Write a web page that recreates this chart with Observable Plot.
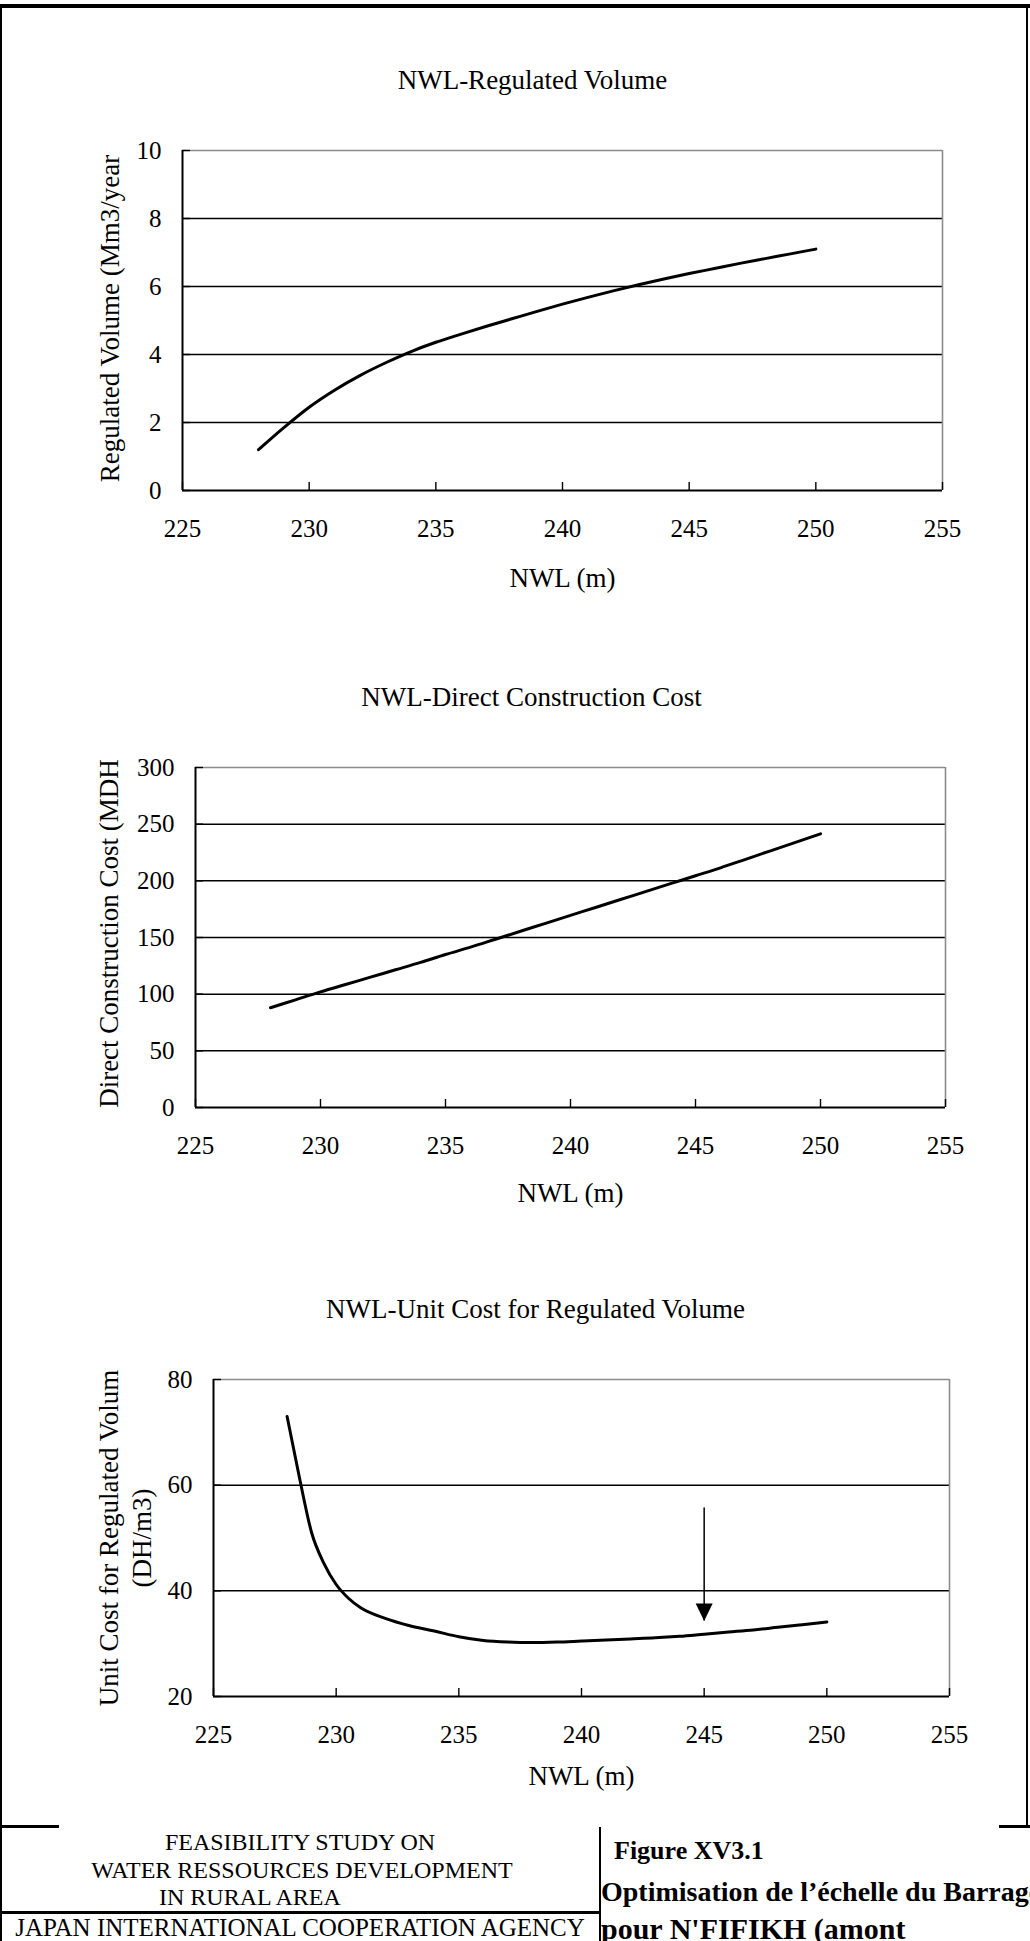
<!DOCTYPE html>
<html>
<head>
<meta charset="utf-8">
<script src="https://cdn.jsdelivr.net/npm/d3@7"></script>
<script src="https://cdn.jsdelivr.net/npm/@observablehq/plot@0.6"></script>
<style>
  html, body { margin: 0; padding: 0; background: #fff; }
  #page {
    position: relative; width: 1030px; height: 1941px; overflow: hidden; background: #fff;
    font-family: "Liberation Serif", "Times New Roman", Times, serif; color: #000;
  }
  .chart { position: absolute; left: 0; }
  .rule { position: absolute; background: #000; }
  .cell { position: absolute; white-space: nowrap; line-height: 1.3; }
  .center { transform: translateX(-50%); }
  .bold { font-weight: bold; }
  .clipped { overflow: hidden; }
</style>
</head>
<body>
<div id="page">
  <div class="rule" style="left:0;top:4px;width:1030px;height:4px"></div>
  <div class="rule" style="left:0;top:4px;width:2px;height:1937px"></div>
  <div class="rule" style="left:1026px;top:4px;width:2px;height:1823px"></div>

  <div id="chart1" class="chart" style="top:40px"></div>
  <div id="chart2" class="chart" style="top:620px"></div>
  <div id="chart3" class="chart" style="top:1240px"></div>

  <!-- title block -->
  <div class="rule" style="left:0;top:1825px;width:59px;height:3px"></div>
  <div class="rule" style="left:999px;top:1825px;width:31px;height:3px"></div>
  <div class="rule" style="left:599px;top:1827px;width:2px;height:114px"></div>
  <div class="rule" style="left:0;top:1911px;width:601px;height:3px"></div>
  <div id="block"></div>
</div>
<script>
// NWL (m) sampled for the regulated volume and cost curves
const nwl = [228, 229, 230, 231, 232, 233, 234, 235, 236, 237, 238, 239,
             240, 241, 242, 243, 244, 245, 246, 247, 248, 249, 250];
// Regulated volume (Mm3/year)
const regulatedVolume = [1.20, 1.85, 2.45, 2.95, 3.38, 3.75, 4.08, 4.36, 4.60, 4.83, 5.05, 5.27,
                         5.48, 5.68, 5.87, 6.05, 6.22, 6.38, 6.53, 6.68, 6.82, 6.96, 7.10];
// Direct construction cost (MDH)
const directCost = [88, 95, 102, 108.5, 115, 121.5, 128, 135, 141.5, 148.5, 155.5, 162.5,
                    169.5, 176.5, 183.5, 190.5, 197.5, 204.5, 211.5, 219, 226.5, 234, 241.5];
// Unit cost for regulated volume (DH/m3), denser near the steep start
const unitCostNwl = [228, 228.5, 229, 229.5, 230, 230.5, 231, 232, 233, 234, 235, 236, 237, 238, 239,
                     240, 241, 242, 243, 244, 245, 246, 247, 248, 249, 250];
const unitCost = [73.0, 61.5, 51.0, 45.2, 41.2, 38.6, 36.8, 34.8, 33.4, 32.4, 31.3, 30.6, 30.3, 30.2, 30.3,
                  30.5, 30.7, 30.9, 31.1, 31.4, 31.8, 32.2, 32.6, 33.1, 33.6, 34.1];
// Arrow pointing at the selected NWL
const selectedNwl = [245];
const arrowStart = [55.7];
const arrowEnd = [34.3];

const xTicks = [225, 230, 235, 240, 245, 250, 255];
const volumeTicks = [0, 2, 4, 6, 8, 10];
const costTicks = [0, 50, 100, 150, 200, 250, 300];
const unitTicks = [20, 40, 60, 80];

const serif = '"Liberation Serif", "Times New Roman", Times, serif';

// filled arrow head whose tip sits at the anchor point
const arrowHead = {
  draw(context) {
    context.moveTo(0, 0);
    context.lineTo(-8.5, -17.5);
    context.lineTo(8.5, -17.5);
    context.closePath();
  }
};

function framedChart(o) {
  const [y0, y1] = o.yDomain;
  return Plot.plot({
    width: 1030,
    height: o.height,
    marginTop: o.mt, marginBottom: o.mb, marginLeft: o.ml, marginRight: o.mr,
    style: {fontFamily: serif, fontSize: "25px", color: "#000", background: "transparent", overflow: "visible"},
    x: {domain: [225, 255], label: null},
    y: {domain: o.yDomain, label: null},
    marks: [
      Plot.ruleY(o.yTicks.filter(v => v > y0 && v < y1), {stroke: "#000", strokeWidth: 1.5}),
      Plot.ruleY([y1], {stroke: "#8c8c8c", strokeWidth: 1.6}),
      Plot.ruleX([255], {stroke: "#8c8c8c", strokeWidth: 1.6}),
      Plot.ruleX([225], {stroke: "#000", strokeWidth: 2}),
      Plot.ruleY([y0], {stroke: "#000", strokeWidth: 2}),
      Plot.axisY({ticks: o.yTicks, tickSize: -8, tickPadding: 29, strokeWidth: 1.4, fontSize: 25, tickFormat: d => String(d)}),
      Plot.axisX({ticks: xTicks, tickSize: -8, tickPadding: 37, strokeWidth: 1.4, fontSize: 25, tickFormat: d => String(d)}),
      ...o.marks,
      Plot.text([o.title], {text: d => d, frameAnchor: "top", lineAnchor: "middle", textAnchor: "middle",
                            dx: o.titleDx, dy: -70, fontSize: 27}),
      Plot.text(["NWL (m)"], {text: d => d, frameAnchor: "bottom", lineAnchor: "middle", textAnchor: "middle",
                              dy: o.xLabelDy, fontSize: 27}),
      ...o.yLabels.map(([t, dx, dy]) =>
        Plot.text([t], {text: d => d, frameAnchor: "left", rotate: -90, textAnchor: "middle", lineAnchor: "middle",
                        dx, dy, fontSize: 27}))
    ]
  });
}

const rows = (xs, ys) => xs.map((x, i) => ({x, y: ys[i]}));

document.getElementById("chart1").append(framedChart({
  height: 580, mt: 110, mb: 130, ml: 182, mr: 88,
  yDomain: [0, 10], yTicks: volumeTicks,
  title: "NWL-Regulated Volume", titleDx: -30, xLabelDy: 88,
  yLabels: [["Regulated Volume (Mm3/year", -72, -2]],
  marks: [
    Plot.line(rows(nwl, regulatedVolume), {x: "x", y: "y", stroke: "#000", strokeWidth: 3, curve: "monotone-x"})
  ]
}));

document.getElementById("chart2").append(framedChart({
  height: 620, mt: 147, mb: 133, ml: 195, mr: 85,
  yDomain: [0, 300], yTicks: costTicks,
  title: "NWL-Direct Construction Cost", titleDx: -39, xLabelDy: 86,
  yLabels: [["Direct Construction Cost (MDH", -86, -4]],
  marks: [
    Plot.line(rows(nwl, directCost), {x: "x", y: "y", stroke: "#000", strokeWidth: 3, curve: "monotone-x"})
  ]
}));

document.getElementById("chart3").append(framedChart({
  height: 570, mt: 139, mb: 114, ml: 213, mr: 81,
  yDomain: [20, 80], yTicks: unitTicks,
  title: "NWL-Unit Cost for Regulated Volume", titleDx: -46, xLabelDy: 80,
  yLabels: [["Unit Cost for Regulated Volum", -104, 0], ["(DH/m3)", -71, 0]],
  marks: [
    Plot.line(rows(unitCostNwl, unitCost), {x: "x", y: "y", stroke: "#000", strokeWidth: 3, curve: "monotone-x"}),
    Plot.ruleX(selectedNwl, {x: d => d, y1: arrowStart, y2: arrowEnd, stroke: "#000", strokeWidth: 1.5}),
    Plot.dot(selectedNwl, {x: d => d, y: arrowEnd, symbol: arrowHead, fill: "#000", stroke: null, r: 5})
  ]
}));

// title block at the foot of the sheet; clip gives the cell's right edge
const blockCells = [
  {text: "FEASIBILITY STUDY ON", x: 300, y: 1843, size: 24, anchor: "center"},
  {text: "WATER RESSOURCES DEVELOPMENT", x: 302, y: 1871, size: 24, anchor: "center"},
  {text: "IN RURAL AREA", x: 159, y: 1898, size: 24, anchor: "left"},
  {text: "JAPAN INTERNATIONAL COOPERATION AGENCY", x: 300, y: 1928, size: 25, anchor: "center"},
  {text: "Figure XV3.1", x: 614, y: 1851, size: 26, anchor: "left", bold: true},
  {text: "Optimisation de l\u2019\u00e9chelle du Barrage", x: 601, y: 1892, size: 28, anchor: "left", bold: true},
  {text: "pour N'FIFIKH (amont", x: 601, y: 1928, size: 30, anchor: "left", bold: true, clip: 936}
];
const block = document.getElementById("block");
for (const c of blockCells) {
  const el = document.createElement("div");
  el.className = "cell" + (c.anchor === "center" ? " center" : "") + (c.bold ? " bold" : "") + (c.clip ? " clipped" : "");
  el.textContent = c.text;
  el.style.fontSize = c.size + "px";
  el.style.left = c.x + "px";
  el.style.top = (c.y - c.size * 0.65) + "px";
  if (c.clip) el.style.width = (c.clip - c.x) + "px";
  block.append(el);
}
</script>
</body>
</html>
